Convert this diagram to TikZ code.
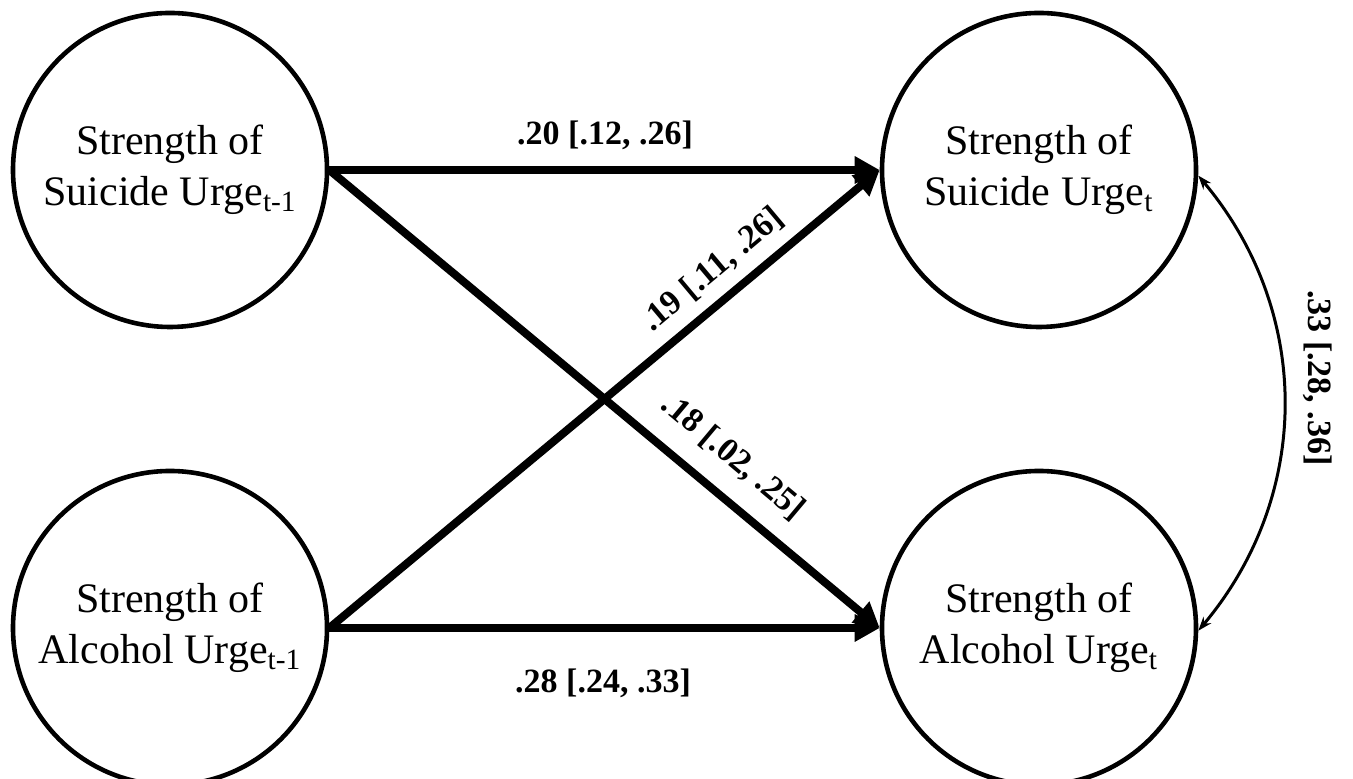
\documentclass[tikz,border=0pt]{standalone}
\usepackage{fontspec}
\setmainfont{Liberation Serif}
\usetikzlibrary{arrows.meta}
\begin{document}
\begin{tikzpicture}[x=0.5pt,y=0.5pt,
  latent/.style={circle, draw, line width=2.3pt, minimum size=157pt, inner sep=0pt, align=center,
    font=\fontsize{21}{25.5}\selectfont},
  patharrow/.style={line width=4pt, -{Triangle[length=12.5pt,width=13pt]}},
  covarrow/.style={line width=1.5pt, {Stealth[length=7pt,width=5pt]}-{Stealth[length=7pt,width=5pt]}},
  coef/.style={font=\fontsize{17}{20}\selectfont\bfseries, inner sep=0pt}]
\useasboundingbox (0,0) rectangle (1353,779);
\node[latent] (tl) at (170,609) {Strength of\\Suicide Urge\textsubscript{t-1}};
\node[latent] (tr) at (1039,609) {Strength of\\Suicide Urge\textsubscript{t}};
\node[latent] (bl) at (170,151) {Strength of\\Alcohol Urge\textsubscript{t-1}};
\node[latent] (br) at (1039,151) {Strength of\\Alcohol Urge\textsubscript{t}};
\draw[patharrow] (tl.east) -- (tr.west);
\draw[patharrow] (bl.east) -- (br.west);
\draw[patharrow] (tl.east) -- (br.west);
\draw[patharrow] (bl.east) -- (tr.west);
\draw[covarrow] (tr.-2) to[bend left=40] (br.-1);
\node[coef] (c1) at (605,644) {.20 [.12, .26]};
\node[coef] (c2) at (603,96) {.28 [.24, .33]};
\node[coef, rotate=40] (c3) at (713,509) {.19 [.11, .26]};
\node[coef, rotate=-40] (c4) at (733,322) {.18 [.02, .25]};
\node[coef, rotate=-90] (c5) at (1318,401) {.33 [.28, .36]};
\end{tikzpicture}
\end{document}
